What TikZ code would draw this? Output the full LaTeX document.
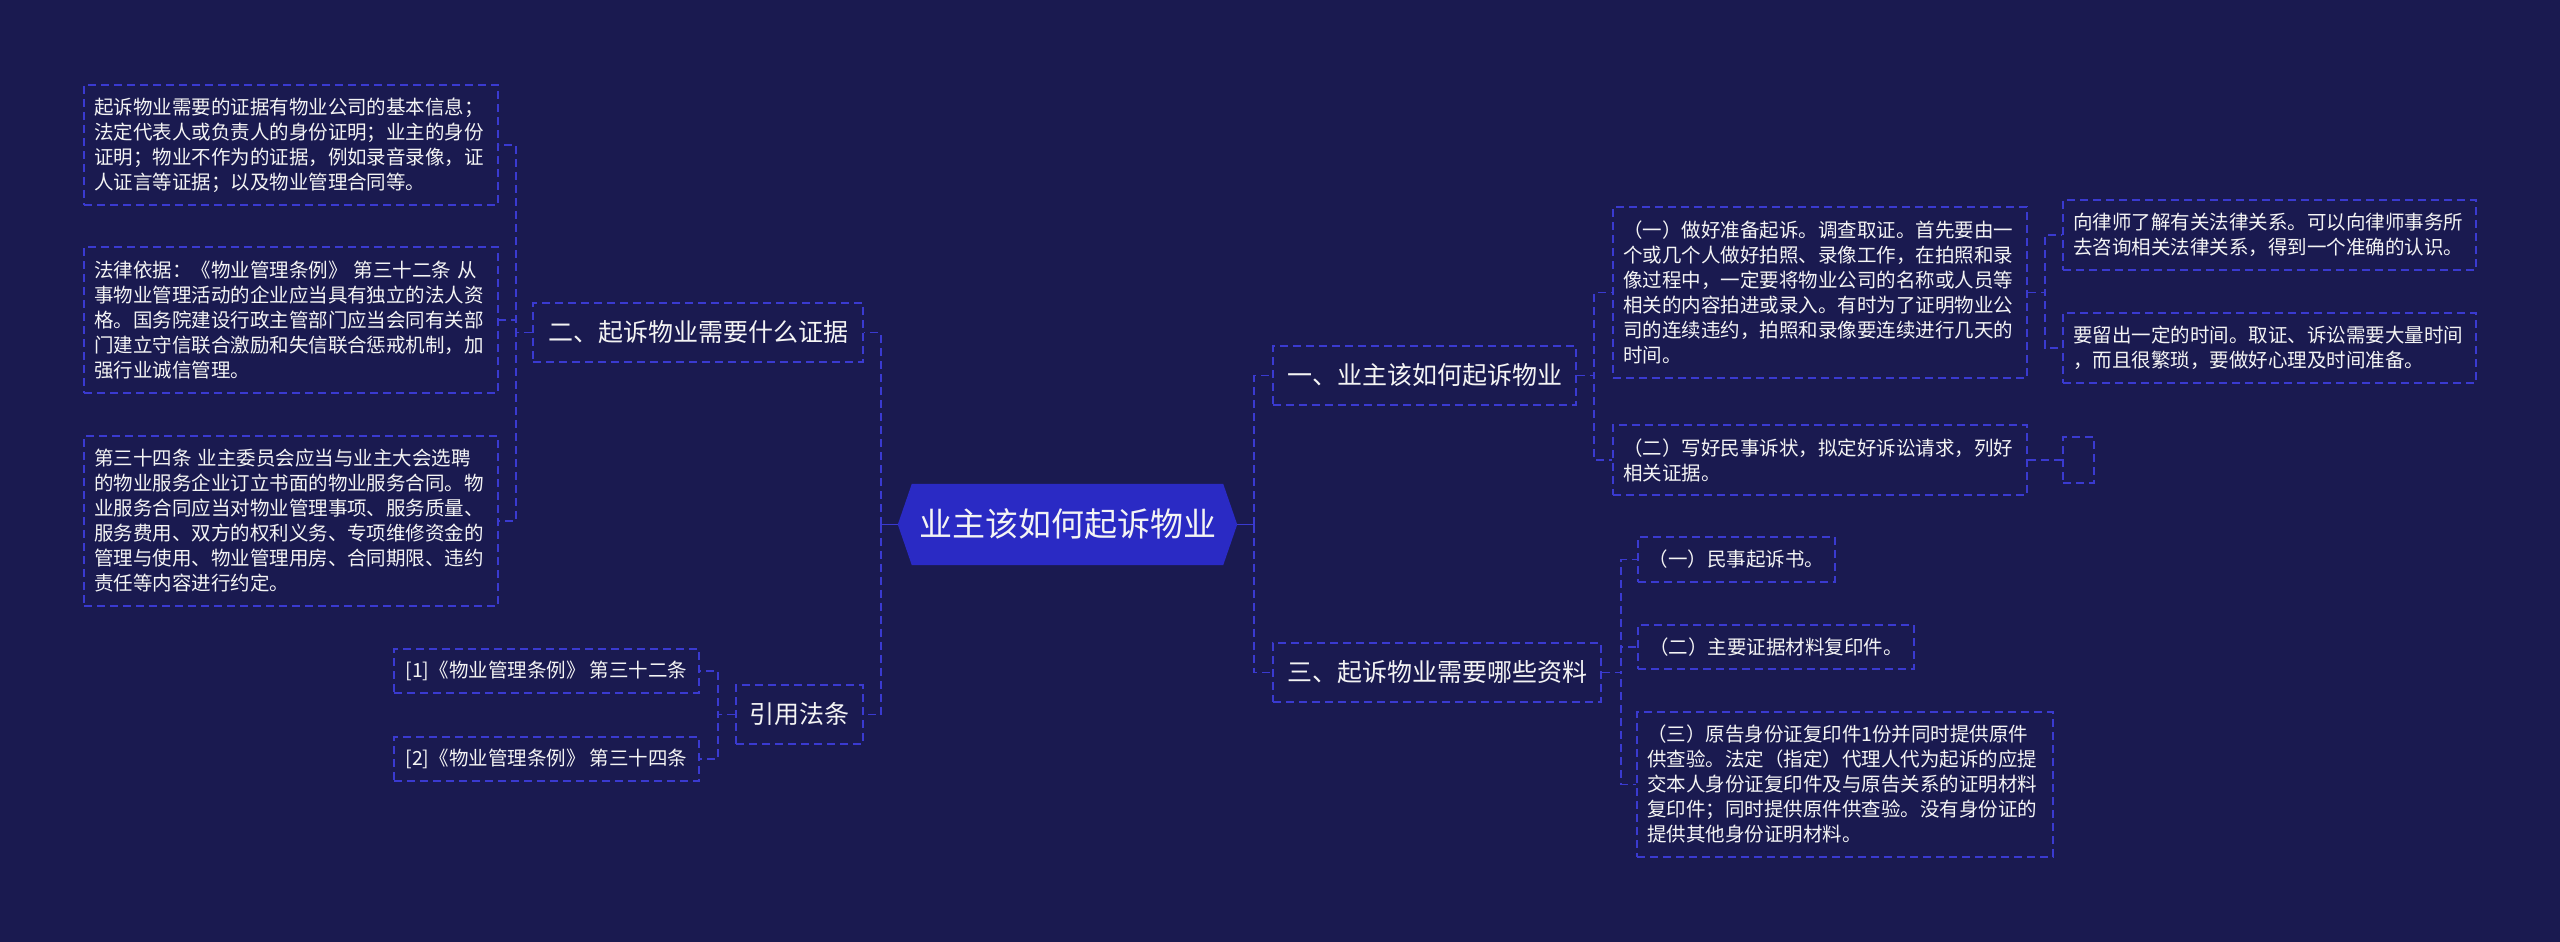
\documentclass[tikz,border=0pt]{standalone}
\usepackage{fontspec}
\setmainfont{Noto Sans CJK SC}
\usetikzlibrary{backgrounds}
\definecolor{bgc}{HTML}{1A1A50}
\definecolor{linec}{HTML}{3A3AD0}
\definecolor{rootc}{HTML}{2A2AC4}
\definecolor{txt}{HTML}{F4F4F4}
\begin{document}
\begin{tikzpicture}[x=1pt,y=-1pt,
 conn/.style={draw=linec,line width=1.5pt,dash pattern=on 8pt off 5pt},
 stub/.style={draw=linec,line width=1.5pt},
 box/.style={draw=linec,line width=1.5pt,dash pattern=on 8pt off 5pt,text=txt,inner sep=5pt},
 pbox/.style={box,align=left,inner xsep=10pt,font=\fontsize{19.5pt}{25pt}\selectfont},
 sbox/.style={box,font=\fontsize{19.5pt}{25pt}\selectfont},
 tbox/.style={box,font=\fontsize{25pt}{30pt}\selectfont},
 rootnode/.style={text=txt,font=\fontsize{33pt}{38pt}\selectfont,inner sep=0pt},
]
\useasboundingbox (0,0) rectangle (2560,942);

% root
\node[rootnode,minimum width=339pt,minimum height=81pt] (root) at (1067.5,524.5) {业主该如何起诉物业};

% left side
\node[tbox,minimum width=330pt,minimum height=59pt] (T2) at (698,332.5) {二、起诉物业需要什么证据};
\node[tbox,minimum width=127pt,minimum height=59pt] (Cite) at (799.5,714.5) {引用法条};

\node[pbox,text width=394pt,minimum height=120pt] (L1) at (291,145) {起诉物业需要的证据有物业公司的基本信息；\\
法定代表人或负责人的身份证明；业主的身份\\
证明；物业不作为的证据，例如录音录像，证\\
人证言等证据；以及物业管理合同等。};
\node[pbox,text width=394pt,minimum height=146pt] (L2) at (291,320) {法律依据：《物业管理条例》 第三十二条 从\\
事物业管理活动的企业应当具有独立的法人资\\
格。国务院建设行政主管部门应当会同有关部\\
门建立守信联合激励和失信联合惩戒机制，加\\
强行业诚信管理。};
\node[pbox,text width=394pt,minimum height=170pt] (L3) at (291,521) {第三十四条 业主委员会应当与业主大会选聘\\
的物业服务企业订立书面的物业服务合同。物\\
业服务合同应当对物业管理事项、服务质量、\\
服务费用、双方的权利义务、专项维修资金的\\
管理与使用、物业管理用房、合同期限、违约\\
责任等内容进行约定。};

\node[sbox,minimum width=305pt,minimum height=44pt] (C1) at (546.5,671) {[1]《物业管理条例》 第三十二条};
\node[sbox,minimum width=305pt,minimum height=44pt] (C2) at (546.5,759) {[2]《物业管理条例》 第三十四条};

% right side
\node[tbox,minimum width=303pt,minimum height=59pt] (T1) at (1424.5,375.5) {一、业主该如何起诉物业};
\node[tbox,minimum width=328pt,minimum height=59pt] (T3) at (1437,672.5) {三、起诉物业需要哪些资料};

\node[pbox,text width=394pt,minimum height=171pt] (A1) at (1820,292.5) {（一）做好准备起诉。调查取证。首先要由一\\
个或几个人做好拍照、录像工作，在拍照和录\\
像过程中，一定要将物业公司的名称或人员等\\
相关的内容拍进或录入。有时为了证明物业公\\
司的连续违约，拍照和录像要连续进行几天的\\
时间。};
\node[pbox,text width=394pt,minimum height=70pt] (A2) at (1820,460) {（二）写好民事诉状，拟定好诉讼请求，列好\\
相关证据。};
\node[pbox,text width=393pt,minimum height=70pt] (A1a) at (2269.5,235) {向律师了解有关法律关系。可以向律师事务所\\
去咨询相关法律关系，得到一个准确的认识。};
\node[pbox,text width=393pt,minimum height=70pt] (A1b) at (2269.5,348) {要留出一定的时间。取证、诉讼需要大量时间\\
，而且很繁琐，要做好心理及时间准备。};
\node[box,inner sep=0pt,minimum width=31pt,minimum height=46pt] (A2a) at (2078.5,460) {};

\node[sbox,minimum width=197pt,minimum height=45pt] (B1) at (1736.5,559.5) {（一）民事起诉书。};
\node[sbox,minimum width=276pt,minimum height=44pt] (B2) at (1776,647) {（二）主要证据材料复印件。};
\node[pbox,text width=396pt,minimum height=145pt] (B3) at (1845,784.5) {（三）原告身份证复印件1份并同时提供原件\\
供查验。法定（指定）代理人代为起诉的应提\\
交本人身份证复印件及与原告关系的证明材料\\
复印件；同时提供原件供查验。没有身份证的\\
提供其他身份证明材料。};

% junction columns
\coordinate (jL0) at (881,0);
\coordinate (jL1) at (516,0);
\coordinate (jL2) at (718,0);
\coordinate (jR0) at (1254,0);
\coordinate (jR1) at (1594,0);
\coordinate (jR2) at (2045,0);
\coordinate (jR3) at (1621,0);

% connectors
\draw[stub] (root.west) -- (root.west -| jL0);
\draw[conn] (root.west -| jL0) |- (T2.east);
\draw[conn] (root.west -| jL0) |- (Cite.east);
\draw[stub] (root.east) -- (root.east -| jR0);
\draw[conn] (root.east -| jR0) |- (T1.west);
\draw[conn] (root.east -| jR0) |- (T3.west);

\draw[conn] (T2.west) -- (T2.west -| jL1) |- (L1.east);
\draw[conn] (T2.west) -- (T2.west -| jL1) |- (L2.east);
\draw[conn] (T2.west) -- (T2.west -| jL1) |- (L3.east);

\draw[conn] (Cite.west) -- (Cite.west -| jL2) |- (C1.east);
\draw[conn] (Cite.west) -- (Cite.west -| jL2) |- (C2.east);

\draw[conn] (T1.east) -- (T1.east -| jR1) |- (A1.west);
\draw[conn] (T1.east) -- (T1.east -| jR1) |- (A2.west);

\draw[conn] (A1.east) -- (A1.east -| jR2) |- (A1a.west);
\draw[conn] (A1.east) -- (A1.east -| jR2) |- (A1b.west);
\draw[conn] (A2.east) -- (A2a.west);

\draw[conn] (T3.east) -- (T3.east -| jR3) |- (B1.west);
\draw[conn] (T3.east) -- (T3.east -| jR3) |- (B2.west);
\draw[conn] (T3.east) -- (T3.east -| jR3) |- (B3.west);

\begin{scope}[on background layer]
\fill[bgc] (0,0) rectangle (2560,942);
\fill[rootc] (root.west) -- ([xshift=14pt]root.north west) -- ([xshift=-14pt]root.north east) -- (root.east) -- ([xshift=-14pt]root.south east) -- ([xshift=14pt]root.south west) -- cycle;
\end{scope}
\end{tikzpicture}
\end{document}
